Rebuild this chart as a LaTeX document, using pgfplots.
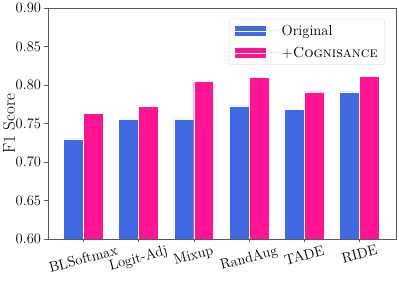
\documentclass[border=0pt]{standalone}
\usepackage{fontspec}
\usepackage{graphicx}
\usepackage{pgfplots}
\pgfplotsset{compat=1.18}
\definecolor{cblue}{RGB}{65,105,225}
\definecolor{cpink}{RGB}{255,20,147}
\definecolor{spine}{RGB}{90,90,90}
\newcommand{\rl}[1]{\rotatebox{15}{#1}}
\begin{document}
\begin{tikzpicture}
\begin{axis}[
  name=ax,
  scale only axis,
  width=348pt, height=231pt,
  xmin=-0.636, xmax=5.66,
  ymin=0.6, ymax=0.9,
  /pgf/number format/assume math mode=true,
  ytick={0.60,0.65,0.70,0.75,0.80,0.85,0.90},
  yticklabel style={/pgf/number format/fixed,/pgf/number format/fixed zerofill,/pgf/number format/precision=2, font=\fontsize{14.5}{16}\selectfont},
  xtick={0,1,2,3,4,5},
  xticklabels={\rl{BLSoftmax},\rl{Logit-Adj},\rl{Mixup},\rl{RandAug},\rl{TADE},\rl{RIDE}},
  xticklabel style={anchor=north, font=\fontsize{14.5}{16}\selectfont, inner sep=2pt},
  ylabel={F1 Score},
  ylabel style={at={(axis description cs:-0.112,0.5)}, anchor=center, font=\fontsize{17}{19}\selectfont},
  axis line style={spine},
  tick style={spine, thin},
  tick align=outside,
  xtick pos=bottom, ytick pos=left,
  major tick length=3.5pt,
  legend style={at={(0.968,0.953)}, anchor=north east, draw=black!12, rounded corners=2pt, font=\fontsize{14.6}{16}\selectfont, row sep=6pt, inner xsep=5pt, inner ysep=4pt, nodes={inner sep=2pt}},
  legend cell align=left,
  legend image code/.code={\fill[#1, sharp corners] (0pt,-5.5pt) rectangle (32pt,5.5pt); \path (0pt,0pt) -- (45pt,0pt);},
]
\addplot[ybar, bar width=0.36, bar shift=-0.18, fill=cblue, draw=white, line width=0.4pt] coordinates {(0,0.730) (1,0.756) (2,0.756) (3,0.773) (4,0.768) (5,0.791)};
\addlegendentry{Original}
\addplot[ybar, bar width=0.36, bar shift=0.18, fill=cpink, draw=white, line width=0.4pt] coordinates {(0,0.763) (1,0.772) (2,0.805) (3,0.810) (4,0.791) (5,0.811)};
\addlegendentry{+\textsc{Cognisance}}
\end{axis}
\pgfresetboundingbox
\useasboundingbox ([xshift=-48pt,yshift=-42pt]ax.south west) rectangle ([xshift=3pt,yshift=8pt]ax.north east);
\end{tikzpicture}
\end{document}
